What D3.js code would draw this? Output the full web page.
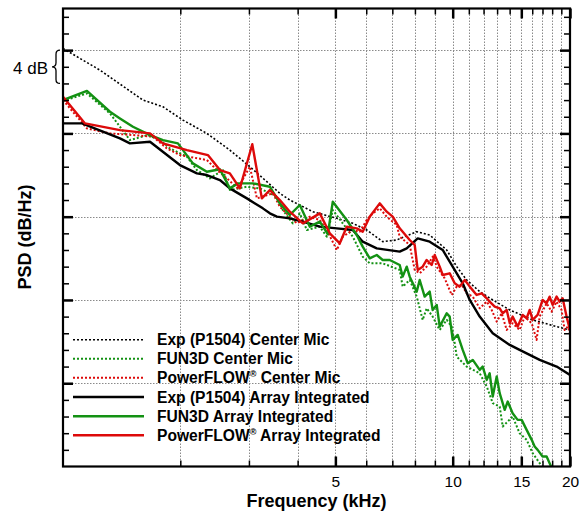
<!DOCTYPE html>
<html><head><meta charset="utf-8">
<script src="https://cdn.jsdelivr.net/npm/d3@7"></script>
<style>body{margin:0;background:#fff}svg{display:block}</style>
</head><body><svg id="c" width="582" height="512"></svg>
<script>
// ---- data (frequency in kHz, PSD in dB/Hz, arbitrary reference) ----
const xTickLabels = [5, 10, 15, 20];
const xMajorTicks = [5, 10, 15, 20];
const xMinorTicks = [2,3,4,6,7,8,9,11,12,13,14,16,17,18,19];
const yMajorTicks = [10, 20, 30, 40, 50];
const yMinorTicks = [2,4,6,8,12,14,16,18,22,24,26,28,32,34,36,38,42,44,46,48,52,54];
const legendLabels = ["Exp (P1504) Center Mic","FUN3D Center Mic","PowerFLOW|Center Mic",
  "Exp (P1504) Array Integrated","FUN3D Array Integrated","PowerFLOW|Array Integrated"];

const expCenterF = [1.0,1.244,1.604,1.805,2.031,2.34,2.68,3.017,3.335,3.601,3.82,4.375,5.042,5.541,6.017,6.614,7.183,8.085,8.73,9.652,10.24,10.86,11.73,12.67,14.01,16.04,18.48,20];
const expCenterV = [50.2,47.6,44.0,43.2,41.6,40.0,38.0,36.0,34.2,32.8,32.0,30.6,29.8,29.2,28.4,27.0,27.2,28.2,27.8,26.0,24.0,22.4,21.0,20.0,18.8,17.6,16.8,16.4];

const fun3dCenterF = [1.0,1.152,1.32,1.485,1.652,1.773,1.881,2.08,2.206,2.382,2.572,2.68,2.964,3.201,3.538,3.665,3.888,4.052,4.224,4.56,4.753,4.924,5.223,5.541,5.876,6.125,6.614,7.312,7.442,7.757,8.085,8.376,8.575,8.885,9.261,9.652,9.94,10.12,10.24,10.86,11.73,12.23,12.67,13.2,13.44,14.25,14.85,15.48,16.04,16.72,17.2];
const fun3dCenterV = [43.9,44.8,42.4,39.2,39.8,39.2,38.2,37.2,35.6,34.6,35.6,33.2,33.6,33.4,32.4,30.8,29.2,30.4,28.4,28.8,27.6,30.8,29.2,27.6,25.2,24.4,24.4,23.6,21.6,22.4,20.4,17.6,19.0,18.0,16.4,17.6,16.8,14.8,13.2,12.0,11.2,9.6,7.6,7.2,4.8,6.0,4.0,3.2,1.6,0.4,-1.0];

const pfCenterF = [1.0,1.152,1.32,1.512,1.701,1.848,1.995,2.34,2.483,2.633,2.81,3.017,3.145,3.455,3.601,3.82,3.981,4.299,4.56,4.753,5.042,5.223,5.541,5.773,6.017,6.234,6.498,6.772,7.183,7.312,7.757,7.99,8.229,8.575,8.885,9.153,9.539,9.94,10.24,10.55,10.86,11.26,11.73,12.23,12.59,12.97,13.36,13.76,14.25,14.85,15.3,15.95,16.42,16.72,17.42,17.94,18.48,19.03,19.37,19.74,20];
const pfCenterV = [44.0,40.6,40.0,39.8,39.6,38.2,37.4,36.8,35.6,34.6,33.4,36.0,32.2,32.8,31.2,30.0,29.2,30.0,29.6,28.4,26.0,27.6,28.4,28.2,29.6,30.4,31.0,30.0,29.0,27.6,26.6,23.6,23.2,24.0,25.2,23.8,22.6,20.6,21.6,21.8,20.8,20.4,19.0,19.8,18.8,17.4,18.4,16.4,17.2,16.4,18.0,17.2,15.2,18.0,19.6,18.6,19.8,18.8,16.4,16.8,16.0];

const expArrayF = [1.0,1.119,1.4,1.485,1.672,1.995,2.206,2.34,2.527,2.68,2.964,3.257,3.395,3.538,3.82,4.125,4.56,5.042,5.541,5.876,6.384,7.312,7.621,8.132,8.73,9.427,10.0,10.61,11.06,11.73,12.67,14.01,14.85,16.72,18.48,20];
const expArrayV = [41.2,41.2,39.4,38.8,39.0,36.2,35.2,35.0,34.4,33.4,32.2,31.0,30.4,30.0,29.8,29.4,28.8,28.6,28.4,27.0,26.2,25.8,26.2,27.4,27.0,26.0,24.0,22.0,20.0,18.0,16.0,14.6,14.0,12.8,12.0,11.0];

const fun3dArrayF = [1.0,1.152,1.32,1.4,1.512,1.672,1.805,1.972,2.154,2.34,2.527,2.68,2.81,3.071,3.395,3.601,3.82,4.052,4.299,4.56,4.781,4.924,5.348,5.673,5.876,6.125,6.384,6.614,6.893,7.312,7.442,7.621,7.757,8.085,8.229,8.474,8.73,8.885,9.099,9.261,9.652,9.824,10.0,10.3,10.61,10.93,11.26,11.73,11.94,12.23,12.44,12.67,12.97,13.2,13.6,13.84,14.25,14.68,15.03,15.48,15.95,16.23,16.52,17.01,17.42,17.73,18.05,18.5];
const fun3dArrayV = [44.0,45.1,42.6,41.8,40.8,39.8,39.2,38.8,36.4,35.4,35.7,33.4,34.0,34.0,33.6,31.6,30.2,31.4,28.8,29.4,27.9,31.8,29.6,27.8,26.4,25.0,25.4,24.8,24.8,24.2,22.8,24.0,22.8,21.0,22.4,20.4,21.0,18.8,19.4,16.8,18.4,18.0,15.2,15.8,14.0,12.4,12.8,11.6,12.0,10.4,11.2,8.4,10.8,8.8,6.8,7.8,6.4,5.6,5.6,4.4,3.2,2.4,2.0,1.2,1.2,0.4,-0.4,-2];

const pfArrayF = [1.0,1.139,1.4,1.672,1.805,2.08,2.354,2.527,2.68,2.844,3.06,3.238,3.395,3.601,3.82,4.125,4.56,4.837,5.132,5.348,5.673,5.876,6.125,6.498,6.772,7.016,7.312,7.757,7.99,8.132,8.376,8.575,8.833,8.991,9.261,9.427,9.824,10.12,10.42,10.74,11.06,11.52,11.87,12.23,12.44,12.82,13.2,13.44,13.76,14.01,14.25,14.68,15.12,15.48,15.76,16.04,16.52,17.01,17.42,17.73,18.05,18.48,18.81,19.15,19.6,20];
const pfArrayV = [44.4,41.2,40.4,40.0,38.8,38.0,37.4,35.6,35.2,33.4,38.7,32.2,33.2,32.0,30.6,29.2,30.4,28.0,26.8,28.8,28.6,28.2,30.0,31.6,30.6,30.0,28.6,27.2,26.6,23.6,24.0,24.8,24.2,25.4,24.0,23.0,23.2,22.0,21.6,22.4,21.6,20.6,20.8,20.2,19.8,19.2,19.0,18.4,18.8,17.2,18.0,16.8,18.2,17.8,18.8,17.6,18.2,20.0,19.6,20.4,19.4,20.4,19.8,20.2,18.0,16.4];

// ---- chart ----
const L = 63, R = 570, T = 8.5, B = 466.5;
const GREEN = "#139113", RED = "#dd0a0a";
const svg = d3.select("#c");
svg.append("rect").attr("width",582).attr("height",512).attr("fill","#fff");
const x = d3.scaleLog().domain([1,20]).range([L,R]);
const y = d3.scaleLinear().domain([0,55]).range([B,T]);

svg.append("defs").append("clipPath").attr("id","clip")
  .append("rect").attr("x",L).attr("y",T).attr("width",R-L).attr("height",B-T);

// grid
const grid = svg.append("g").attr("stroke","#8a8a8a").attr("stroke-width",1).attr("stroke-dasharray","1.5,1.5");
grid.selectAll("line.v").data(xMinorTicks.concat([5,10,15])).join("line")
  .attr("x1",d=>Math.round(x(d))+0.5).attr("x2",d=>Math.round(x(d))+0.5).attr("y1",T).attr("y2",B);
grid.selectAll("line.h").data(yMajorTicks).join("line")
  .attr("y1",d=>Math.round(y(d))+0.5).attr("y2",d=>Math.round(y(d))+0.5).attr("x1",L).attr("x2",R);

// series
const series = [
  {f:expCenterF, v:expCenterV, c:"#000", dash:"2,2", w:1.6},
  {f:fun3dCenterF, v:fun3dCenterV, c:GREEN, dash:"2,2", w:2},
  {f:pfCenterF, v:pfCenterV, c:RED, dash:"2,2", w:2},
  {f:expArrayF, v:expArrayV, c:"#000", dash:null, w:2.4},
  {f:fun3dArrayF, v:fun3dArrayV, c:GREEN, dash:null, w:2.4},
  {f:pfArrayF, v:pfArrayV, c:RED, dash:null, w:2.4}
];
const line = d3.line().x(d=>x(d[0])).y(d=>y(d[1]));
const plot = svg.append("g").attr("clip-path","url(#clip)");
series.forEach(s=>{
  plot.append("path").datum(s.f.map((f,i)=>[f,s.v[i]]))
    .attr("d",line).attr("fill","none").attr("stroke",s.c).attr("stroke-width",s.w)
    .attr("stroke-linejoin","round")
    .attr("stroke-dasharray",s.dash);
});

// axes (inward ticks on all four sides)
function styleAx(g, w){ g.select(".domain").remove(); g.selectAll(".tick line").attr("stroke","#000").attr("stroke-width",w); }
svg.append("g").attr("transform",`translate(0,${B})`).call(d3.axisBottom(x).tickValues(xMinorTicks).tickSize(-6).tickFormat("")).call(g=>styleAx(g,1.5));
svg.append("g").attr("transform",`translate(0,${T})`).call(d3.axisTop(x).tickValues(xMinorTicks).tickSize(-6).tickFormat("")).call(g=>styleAx(g,1.5));
svg.append("g").attr("transform",`translate(0,${T})`).call(d3.axisTop(x).tickValues(xMajorTicks).tickSize(-10).tickFormat("")).call(g=>styleAx(g,2.5));
const xb = svg.append("g").attr("transform",`translate(0,${B})`)
  .call(d3.axisBottom(x).tickValues(xTickLabels).tickSize(-10).tickPadding(9).tickFormat(d3.format("d")))
  .call(g=>styleAx(g,2.5));
xb.selectAll("text").attr("font-family","Liberation Sans, Arial, sans-serif").attr("font-size",15.5).attr("fill","#000");
svg.append("g").attr("transform",`translate(${L},0)`).call(d3.axisLeft(y).tickValues(yMinorTicks).tickSize(-6).tickFormat("")).call(g=>styleAx(g,1.5));
svg.append("g").attr("transform",`translate(${L},0)`).call(d3.axisLeft(y).tickValues(yMajorTicks).tickSize(-10).tickFormat("")).call(g=>styleAx(g,2.5));
svg.append("g").attr("transform",`translate(${R},0)`).call(d3.axisRight(y).tickValues(yMinorTicks).tickSize(-6).tickFormat("")).call(g=>styleAx(g,1.5));
svg.append("g").attr("transform",`translate(${R},0)`).call(d3.axisRight(y).tickValues(yMajorTicks).tickSize(-10).tickFormat("")).call(g=>styleAx(g,2.5));

svg.append("rect").attr("x",L).attr("y",T).attr("width",R-L).attr("height",B-T)
  .attr("fill","none").attr("stroke","#000").attr("stroke-width",2.2);

// titles
const font = "Liberation Sans, Arial, sans-serif";
svg.append("text").attr("x",316.5).attr("y",506.5).attr("text-anchor","middle")
  .attr("font-family",font).attr("font-weight","bold").attr("font-size",18).text("Frequency (kHz)");
svg.append("text").attr("transform","translate(31,237) rotate(-90)").attr("text-anchor","middle")
  .attr("font-family",font).attr("font-weight","bold").attr("font-size",18).text("PSD (dB/Hz)");

// 4 dB scale bracket
svg.append("text").attr("x",48).attr("y",74).attr("text-anchor","end")
  .attr("font-family",font).attr("font-size",17).text("4 dB");
svg.append("path").attr("d",`M60,${y(50)} Q56,${y(50)} 56,${y(50)+4} L56,${y(48)-4} Q56,${y(48)} 52,${y(48)} Q56,${y(48)} 56,${y(48)+4} L56,${y(46)-4} Q56,${y(46)} 60,${y(46)}`)
  .attr("fill","none").attr("stroke","#000").attr("stroke-width",1.3);

// legend
const rows = [339.7,358.7,377.7,397,416.3,435.3];
const lg = svg.append("g");
series.forEach((s,i)=>{
  lg.append("line").attr("x1",73).attr("x2",144).attr("y1",rows[i]).attr("y2",rows[i])
    .attr("stroke",s.c).attr("stroke-width",s.dash? (i===0?1.6:2):2.4).attr("stroke-dasharray",s.dash);
  const parts = legendLabels[i].split("|");
  const t = lg.append("text").attr("x",157).attr("y",rows[i]+5.6)
    .attr("font-family",font).attr("font-weight","bold").attr("font-size",15.6);
  if(parts.length===1){ t.text(parts[0]); }
  else {
    t.append("tspan").text(parts[0]);
    t.append("tspan").attr("font-size",9).attr("dy",-6).text("®");
    t.append("tspan").attr("dy",6).text(" "+parts[1]);
  }
});
</script></body></html>
